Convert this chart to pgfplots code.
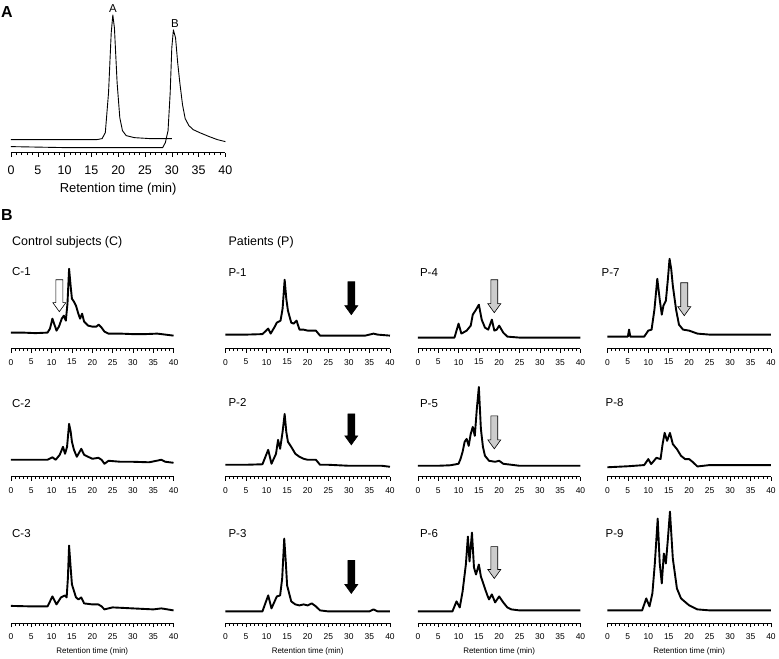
\documentclass[border=0pt]{standalone}
\usepackage{fontspec}
\setmainfont{Liberation Sans}
\usepackage{pgfplots}
\pgfplotsset{compat=1.18}
\newcommand{\darrow}[4]{\draw[fill=#4, line width=0.6pt, line join=miter] (axis cs:#1,#2) -- ++(-6.5pt,9pt) -- ++(3pt,0pt) -- ++(0pt,#3pt) -- ++(7pt,0pt) -- ++(0pt,-#3pt) -- ++(3pt,0pt) -- cycle;}
\pgfplotsset{
  chrom/.style={scale only axis, width=#1, height=100pt,
    xmin=0, xmax=40, ymin=0, ymax=100, clip=false,
    axis x line*=bottom, axis y line=none,
    x axis line style={-, line width=0.6pt},
    xtick={0,5,...,40}, minor xtick={0,1,...,40},
    tick align=outside, major tick length=4pt, minor tick length=2.5pt,
    tick style={black, line width=0.5pt},
    /pgf/number format/assume math mode=true,
    xticklabel style={font=\fontsize{8.5}{9}\selectfont, yshift=-3pt},
    every axis plot post/.append style={black, line width=1.9pt, line join=round, mark=none},
  },
  xl/.style={xlabel={Retention time (min)}, xlabel style={font=\fontsize{8}{9}\selectfont, yshift=-1pt}},
}
\begin{document}
\begin{tikzpicture}
\path (0pt,0pt) rectangle (779pt,657pt);
% Panel A
\begin{axis}[chrom=215pt, height=150pt, ymax=150, at={(11pt,504pt)}, anchor=south west,
  xticklabel style={font=\fontsize{12.5}{13}\selectfont, yshift=-3pt},
  xlabel={Retention time (min)}, xlabel style={font=\fontsize{13}{14}\selectfont, yshift=-1pt},
  every axis plot post/.append style={line width=0.9pt}]
\addplot coordinates {(0,13)(16,13)(17,14)(17.6,20)(18.2,60)(18.7,120)(19,138)(19.3,125)(19.8,70)(20.3,35)(20.8,22)(21.5,17)(23,15)(26,14)(30,14)};
\addplot[line width=1.2pt] coordinates {(0,6)(10,5)(20,5)(27,5)(28.3,5)(28.8,10)(29.3,22)(29.7,60)(30,105)(30.3,123)(30.7,115)(31.1,90)(31.5,70)(32,48)(32.5,34)(33.2,27)(34,23)(35.2,20)(37,16)(38.5,13)(40,11)};
\node[anchor=south, font=\fontsize{11.5}{12}\selectfont, inner sep=1pt] at (axis cs:19,139) {A};
\node[anchor=south, font=\fontsize{11.5}{12}\selectfont, inner sep=1pt] at (axis cs:30.6,124) {B};
\end{axis}
\node[anchor=west, font=\bfseries\fontsize{16}{17}\selectfont, inner sep=0pt] at (1pt,645pt) {A};
\node[anchor=west, font=\bfseries\fontsize{16}{17}\selectfont, inner sep=0pt] at (1pt,441pt) {B};
\node[anchor=west, font=\fontsize{12.5}{13}\selectfont, inner sep=0pt] at (12pt,414pt) {Control subjects (C)};
\node[anchor=west, font=\fontsize{12.5}{13}\selectfont, inner sep=0pt] at (229pt,414pt) {Patients (P)};
% Row 1
\begin{axis}[chrom=163pt, at={(11pt,307.5pt)}, anchor=south west]
\addplot coordinates {(0,16)(3,16)(6,15.5)(9,16)(9.6,20)(10.2,30)(10.7,24)(11.2,18)(11.8,22)(12.5,30)(13,33)(13.5,28)(13.9,45)(14.3,80)(14.7,62)(15,50)(15.5,47)(16,43)(16.5,36)(17,30)(17.5,35)(18,27)(19,23)(20,22)(21,22)(21.6,24)(22.3,21)(23,17)(24,15)(27,15)(30,14.5)(33,14.5)(36,15)(38,14)(40,13)};
\darrow{11.9}{37}{23}{white}
\end{axis}
\begin{axis}[chrom=165pt, at={(226pt,307.5pt)}, anchor=south west]
\addplot coordinates {(0,14)(5,14)(9,14.5)(10.4,20)(11,15)(12,22)(12.5,26)(13.4,28)(13.9,40)(14.4,69)(14.8,50)(15.2,38)(16,26)(16.6,25)(17.3,28)(18,19)(19,19)(20,18)(22,18)(23,13)(25,13)(30,13)(34,13)(36,15)(37,14)(40,13)};
\darrow{30.6}{34}{24}{black}
\end{axis}
\begin{axis}[chrom=163pt, at={(419pt,307.5pt)}, anchor=south west]
\addplot coordinates {(0,11)(5,11)(9,11)(10,25)(10.7,15)(12,18)(13,23)(13.5,34)(14.3,39)(15,44)(15.7,29)(16.5,21)(17.3,19)(18.2,29)(18.8,18)(19.4,19)(20,23)(21,16)(22,12)(25,11)(30,11)(35,11)(40,11)};
\darrow{18.8}{36}{24}{gray!40}
\end{axis}
\begin{axis}[chrom=164pt, at={(609pt,307.5pt)}, anchor=south west]
\addplot coordinates {(0,12)(5,12)(5.3,19)(5.6,12)(9,12)(10,18)(10.8,19)(11.5,39)(12.2,70)(12.8,49)(13.3,34)(13.7,43)(14.3,48)(14.8,70)(15.2,90)(15.6,80)(16,63)(16.8,39)(17.5,24)(18.5,19)(20,18)(22,15)(25,14)(30,14)(35,14)(40,14)};
\darrow{18.8}{33}{24}{gray!40}
\end{axis}
% Row 2
\begin{axis}[chrom=163pt, at={(11pt,179pt)}, anchor=south west]
\addplot coordinates {(0,17)(4,17)(7,17)(9,17)(10.2,19.5)(11,17)(12,22)(12.8,30)(13.3,23)(13.8,30)(14.3,53)(14.7,45)(15,35)(15.5,27)(16.2,20)(17.3,28)(18,22)(19,20)(20,18)(21.5,19)(22.3,17)(23,13)(24,16)(27,15)(30,15)(34,14.5)(37,17)(38,15)(40,14)};
\end{axis}
\begin{axis}[chrom=165pt, at={(226pt,179pt)}, anchor=south west]
\addplot coordinates {(0,12)(5,12)(9,12.5)(10.4,27)(11.2,13)(12.3,23)(12.8,37)(13.3,28)(13.9,45)(14.4,63)(14.8,45)(15.2,35)(16,30)(17,23)(18,20)(19,18)(20,17)(22,17)(23,12)(25,12)(30,11)(35,11)(38,11)(40,10)};
\darrow{30.6}{32}{22}{black}
\end{axis}
\begin{axis}[chrom=163pt, at={(419pt,179pt)}, anchor=south west]
\addplot coordinates {(0,11)(5,11)(8,11.5)(10,13)(10.5,18)(11,25)(11.5,35)(12,38)(12.5,31)(13,43)(13.5,50)(14,41)(14.5,68)(15,90)(15.5,48)(16,30)(16.5,21)(17.5,16)(19,15)(20,16)(21,13)(25,11)(30,11)(35,11)(40,11)};
\darrow{18.8}{28}{24}{gray!40}
\end{axis}
\begin{axis}[chrom=164pt, at={(609pt,179pt)}, anchor=south west]
\addplot coordinates {(0,9.5)(5,10.5)(9,11.7)(10,17.7)(10.7,12.7)(12,19)(13,17.7)(13.5,32.7)(14,44)(14.6,36)(15.3,44)(16,32.7)(17,27.7)(18,21)(19,17.7)(20,17.7)(21,14.3)(22,10.3)(25,11.7)(30,11.7)(35,11.7)(40,11.7)};
\end{axis}
% Row 3
\begin{axis}[chrom=163pt, at={(11pt,32pt)}, anchor=south west, xl]
\addplot coordinates {(0,17.5)(5,17)(9,17)(10.2,27)(11.2,19)(12.3,26)(13.3,28)(13.7,26)(14,45)(14.3,78)(14.7,55)(15,39)(16,26)(16.6,24)(17.3,26)(18,20)(20,19)(21.5,19)(22.3,17)(23,14)(25,16)(30,15)(35,14)(37,15)(40,13)};
\end{axis}
\begin{axis}[chrom=165pt, at={(226pt,32pt)}, anchor=south west, xl]
\addplot coordinates {(0,12)(5,12)(9,12)(10.4,28)(11.2,15)(12.5,27)(13.3,28)(13.8,45)(14.3,85)(14.7,60)(15,38)(16,22)(17,19)(18,18)(19,19)(20,18)(21,20)(22,17)(23,13)(25,12)(30,12)(35,12)(36,14)(37,12)(40,12)};
\darrow{30.6}{30}{24}{black}
\end{axis}
\begin{axis}[chrom=163pt, at={(419pt,32pt)}, anchor=south west, xl]
\addplot coordinates {(0,12)(5,12)(8.5,12)(9.5,22)(10.3,16)(11,32)(11.8,59)(12.3,87)(12.7,62)(13.3,91)(13.8,56)(14.3,49)(15,59)(15.5,47)(16,41)(17,29)(17.5,24)(18.2,29)(19,21)(20,27)(21,21)(22,16)(23,14)(25,13)(30,13)(35,13)(40,13)};
\darrow{18.8}{45}{23}{gray!40}
\end{axis}
\begin{axis}[chrom=164pt, at={(609pt,32pt)}, anchor=south west, xl]
\addplot coordinates {(0,13)(5,13)(8.5,13)(9.5,25)(10.3,17)(11,30)(11.6,60)(12.3,105)(12.8,60)(13.3,40)(13.8,70)(14.3,60)(14.8,85)(15.3,112)(15.7,85)(16,65)(17,35)(18,25)(20,18)(22,14)(25,13)(30,13)(35,13)(40,13)};
\end{axis}
% Sample labels
\begin{scope}[every node/.style={anchor=west, font=\fontsize{11.5}{12}\selectfont, inner sep=0pt}]
\node at (12pt,385pt) {C-1};
\node at (229pt,384pt) {P-1};
\node at (421pt,384pt) {P-4};
\node at (603pt,384pt) {P-7};
\node at (12pt,252pt) {C-2};
\node at (229pt,253pt) {P-2};
\node at (421pt,252pt) {P-5};
\node at (607pt,253pt) {P-8};
\node at (12pt,122pt) {C-3};
\node at (229pt,122pt) {P-3};
\node at (421pt,122pt) {P-6};
\node at (607pt,122pt) {P-9};
\end{scope}
\end{tikzpicture}
\end{document}
